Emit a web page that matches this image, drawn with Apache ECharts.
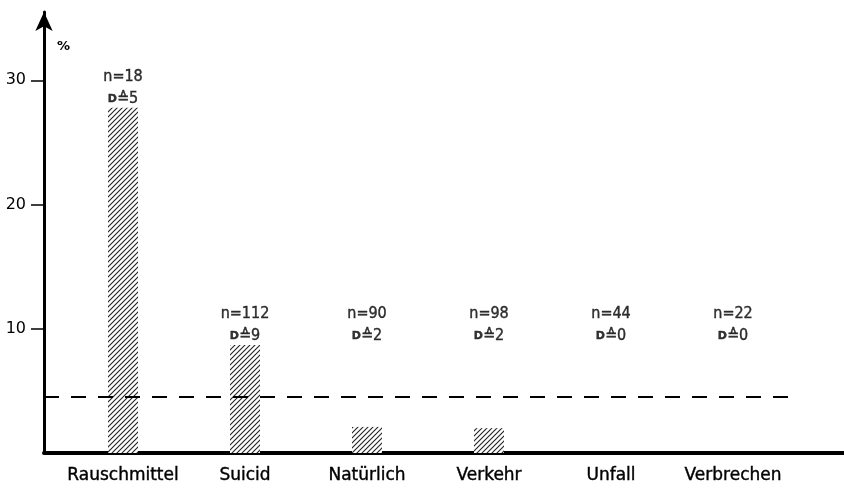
<!DOCTYPE html>
<html>
<head>
<meta charset="utf-8">
<script src="https://cdn.jsdelivr.net/npm/echarts@6/dist/echarts.min.js"></script>
<style>html,body{margin:0;padding:0;background:#fff}#c{width:844px;height:488px}</style>
</head>
<body>
<div id="c"></div>
<script>
const categories = ['Rauschmittel', 'Suicid', 'Natürlich', 'Verkehr', 'Unfall', 'Verbrechen'];
const percentValues = [27.8, 8.7, 2.1, 2.0, 0, 0];
const nValues = [18, 112, 90, 98, 44, 22];
const dValues = [5, 9, 2, 2, 0, 0];
const referenceLevel = 4.5;
const yTicks = [10, 20, 30];

const LABEL_FLOOR = 8.7;
const FONT = 'DejaVu Sans';
const FONT_C = 'DejaVu Sans Condensed';

// hatch pattern
const P = 5;
const pc = document.createElement('canvas');
pc.width = P; pc.height = P;
const g = pc.getContext('2d');
g.fillStyle = '#fff'; g.fillRect(0, 0, P, P);
g.strokeStyle = '#222'; g.lineWidth = 1.1;
g.beginPath();
g.moveTo(-1, P + 1); g.lineTo(P + 1, -1);
g.moveTo(-1, 1); g.lineTo(1, -1);
g.moveTo(P - 1, P + 1); g.lineTo(P + 1, P - 1);
g.stroke();

const chart = echarts.init(document.getElementById('c'), null, {renderer: 'canvas'});
const Y_MAX = 35.5;
chart.setOption({
  backgroundColor: '#fff',
  animation: false,
  grid: [
    {left: 44, right: 0, top: 12, bottom: 35},
    {left: 62, right: 50, top: 12, bottom: 35}
  ],
  xAxis: [
    {gridIndex: 0, type: 'value', min: 0, max: 100,
     axisLine: {show: true, lineStyle: {color: '#000', width: 4}},
     axisTick: {show: false}, axisLabel: {show: false}, splitLine: {show: false}},
    {gridIndex: 1, type: 'category', data: categories,
     axisLine: {show: false}, axisTick: {show: false},
     axisLabel: {interval: 0, color: '#000', fontFamily: FONT, fontSize: 17, margin: 14,
       textBorderColor: '#000', textBorderWidth: 0.4}}
  ],
  yAxis: [
    {gridIndex: 0, type: 'value', min: 0, max: Y_MAX, interval: 10,
     axisLine: {show: true, symbol: ['none', 'arrow'], symbolSize: [13, 19],
       lineStyle: {color: '#000', width: 3}},
     axisTick: {show: true, length: 13, lineStyle: {color: '#000', width: 1.5},
       customValues: yTicks},
     axisLabel: {color: '#000', fontFamily: FONT, fontSize: 16, margin: 18,
       customValues: yTicks,
       formatter: v => yTicks.includes(v) ? String(v) : ''},
     splitLine: {show: false}},
    {gridIndex: 1, type: 'value', min: 0, max: Y_MAX, show: false}
  ],
  graphic: [
    {type: 'text', left: 57, top: 40,
     style: {text: '%', fontFamily: FONT, fontSize: 13, fontWeight: 'bold', fill: '#000'}}
  ],
  series: [
    {type: 'line', xAxisIndex: 0, yAxisIndex: 0, data: [], silent: true,
     markLine: {symbol: 'none', silent: true, label: {show: false},
       lineStyle: {color: '#000', width: 2, type: [15, 12]},
       data: [[{coord: [0, referenceLevel]}, {coord: [93.5, referenceLevel]}]]}},
    {type: 'bar', xAxisIndex: 1, yAxisIndex: 1, data: percentValues, barWidth: 30,
     itemStyle: {color: {image: pc, repeat: 'repeat'}}},
    {type: 'scatter', xAxisIndex: 1, yAxisIndex: 1, symbolSize: 0, silent: true,
     data: percentValues.map(v => Math.max(v, LABEL_FLOOR)),
     label: {show: true, position: 'top', distance: -2, color: '#000',
       fontFamily: FONT_C, fontSize: 16, lineHeight: 22, align: 'center',
       textBorderColor: '#000', textBorderWidth: 0.4,
       formatter: p => 'n=' + nValues[p.dataIndex] + '\n{d|D}≙' + dValues[p.dataIndex],
       rich: {d: {fontSize: 11, fontWeight: 'bold', fontFamily: FONT, color: '#000', lineHeight: 22}}}}
  ]
});
</script>
</body>
</html>
